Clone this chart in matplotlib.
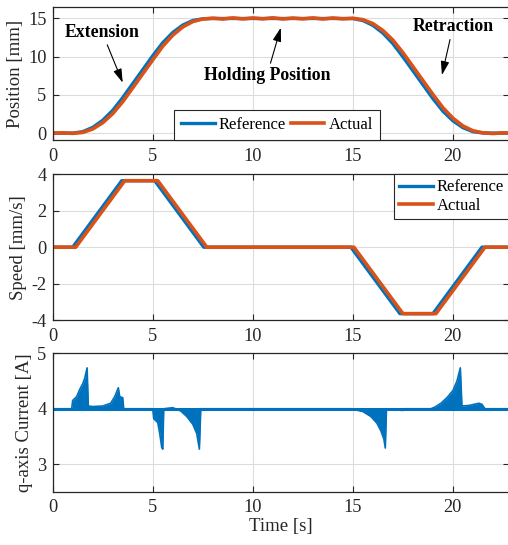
import matplotlib
matplotlib.use('Agg')
import matplotlib.pyplot as plt

plt.rcParams['font.family'] = ['Liberation Serif', 'DejaVu Serif']
plt.rcParams['axes.unicode_minus'] = False

#### colours (MATLAB default)
c_ref = '#0072BD'
c_act = '#D95319'

#### Position [mm]
pos_ref_t = [0, 1.0, 1.5, 2.0, 2.5, 3.0, 3.5, 4.0, 4.5, 5.0, 5.5, 6.0, 6.5, 7.0, 7.5, 8.0,
             14.5, 15.0, 15.5, 16.0, 16.5, 17.0, 17.5, 18.0, 18.5, 19.0, 19.5, 20.0, 20.5,
             21.0, 21.5, 22.0, 22.8]
pos_ref = [0, 0, 0.19, 0.75, 1.68, 2.98, 4.65, 6.48, 8.30, 10.13, 11.83, 13.17, 14.14, 14.74,
           14.96, 15.0, 15.0, 14.99, 14.73, 14.10, 13.09, 11.71, 9.98, 8.16, 6.33, 4.51, 2.87,
           1.61, 0.71, 0.19, 0.02, 0, 0]
pos_act_t = [0, 0.5, 1.0, 1.5, 2.0, 2.5, 3.0, 3.5, 4.0, 4.5, 5.0, 5.5, 6.0, 6.5, 7.0, 7.5,
             8.0, 8.5, 9.0, 9.5, 10.0, 10.5, 11.0, 11.5, 12.0, 12.5, 13.0, 13.5, 14.0, 14.5,
             15.0, 15.5, 16.0, 16.5, 17.0, 17.5, 18.0, 18.5, 19.0, 19.5, 20.0, 20.5, 21.0,
             21.5, 22.0, 22.5, 22.8]
pos_act = [0.0, 0.04, -0.03, 0.09, 0.54, 1.36, 2.55, 4.11, 5.93, 7.76, 9.58, 11.37, 12.81,
           13.89, 14.60, 14.93, 15.04, 14.93, 15.08, 14.94, 15.07, 14.95, 15.09, 14.93, 15.06,
           14.95, 15.08, 14.93, 15.07, 14.95, 15.03, 14.85, 14.33, 13.43, 12.17, 10.53, 8.71,
           6.88, 5.06, 3.32, 1.95, 0.94, 0.31, 0.04, -0.05, 0.04, 0.0]

#### Speed [mm/s]
spd_ref_t = [0, 1.0, 3.45, 5.1, 7.55, 14.9, 17.35, 19.0, 21.45, 22.8]
spd_ref = [0, 0, 3.65, 3.65, 0, 0, -3.65, -3.65, 0, 0]
spd_act_t = [0, 1.15, 3.6, 5.25, 7.7, 15.05, 17.5, 19.15, 21.6, 22.8]
spd_act = [0, 0, 3.65, 3.65, 0, 0, -3.65, -3.65, 0, 0]

#### q-axis current [A] (envelope of the ripple)
cur_base = 4.0
cur_t = [0.0, 0.95, 1.0, 1.2, 1.35, 1.5, 1.6, 1.72, 1.78, 2.0, 2.5, 2.9, 3.1, 3.28, 3.35,
         3.5, 3.55, 5.0, 5.05, 5.25, 5.35, 5.45, 5.5, 5.55, 6.0, 6.4, 6.7, 7.0, 7.2, 7.33,
         7.4, 14.9, 15.5, 15.9, 16.2, 16.4, 16.55, 16.62, 16.68, 17.2, 17.5, 17.6, 18.9,
         19.1, 19.4, 19.7, 20.0, 20.2, 20.37, 20.45, 20.8, 21.3, 21.45, 21.6, 22.8]
cur_v = [4.0, 4.0, 4.15, 4.22, 4.35, 4.45, 4.55, 4.74, 4.05, 4.04, 4.05, 4.1, 4.22, 4.38,
         4.22, 4.2, 4.0, 4.0, 3.82, 3.75, 3.55, 3.3, 3.27, 4.0, 4.02, 3.96, 3.86, 3.72, 3.55,
         3.27, 4.0, 4.0, 3.95, 3.86, 3.74, 3.6, 3.45, 3.29, 4.0, 3.98, 3.97, 4.0, 4.0, 4.03,
         4.1, 4.2, 4.33, 4.5, 4.74, 4.05, 4.06, 4.1, 4.08, 4.0, 4.0]

xmax = 22.8

fig = plt.figure(figsize=(5.08, 5.45), dpi=100)
ax1 = fig.add_axes([0.1037, 0.7431, 0.8982, 0.2440])
ax2 = fig.add_axes([0.1037, 0.4128, 0.8982, 0.2673])
ax3 = fig.add_axes([0.1037, 0.0978, 0.8982, 0.2536])

for ax in (ax1, ax2, ax3):
    ax.set_xlim(0, xmax)
    ax.set_xticks([0, 5, 10, 15, 20])
    ax.grid(True, color='#dcdcdc', lw=0.8)
    ax.set_axisbelow(True)
    ax.tick_params(direction='in', top=True, right=True, labelsize=13.2,
                   colors='#262626', length=4, width=0.8)
    ax.tick_params(axis='x', pad=5.5)
    ax.tick_params(axis='y', pad=4.5)
    for s in ax.spines.values():
        s.set_color('#262626')
        s.set_linewidth(0.9)

##### Position
ax1.plot(pos_ref_t, pos_ref, color=c_ref, lw=2.4, label='Reference')
ax1.plot(pos_act_t, pos_act, color=c_act, lw=2.6, label='Actual')
ax1.set_ylim(-0.9, 16.5)
ax1.set_yticks([0, 5, 10, 15])
ax1.set_ylabel('Position [mm]', fontsize=13.5, color='#262626', labelpad=3)
leg1 = ax1.legend(loc='lower center', bbox_to_anchor=(0.492, 0), ncol=2, fontsize=12,
                  fancybox=False, edgecolor='#262626', borderaxespad=0, handlelength=2.0,
                  handletextpad=0.25, columnspacing=0.3, borderpad=0.42)
leg1.get_frame().set_linewidth(0.8)
leg1.get_frame().set_alpha(1)

arw = dict(arrowstyle='-|>,head_length=0.65,head_width=0.2', color='k', lw=0.8,
           shrinkA=1, shrinkB=0)
ax1.annotate('Extension', xy=(3.5, 6.6), xytext=(2.47, 13.2), ha='center', va='center',
             fontsize=12.8, fontweight='bold', arrowprops=arw)
ax1.annotate('Holding Position', xy=(11.4, 13.8), xytext=(10.7, 7.5), ha='center',
             va='center', fontsize=12.8, fontweight='bold', arrowprops=arw)
ax1.annotate('Retraction', xy=(19.45, 7.6), xytext=(20.0, 13.9), ha='center', va='center',
             fontsize=12.8, fontweight='bold', arrowprops=arw)

##### Speed
ax2.plot(spd_ref_t, spd_ref, color=c_ref, lw=2.4, label='Reference')
ax2.plot(spd_act_t, spd_act, color=c_act, lw=2.6, label='Actual')
ax2.set_ylim(-4, 4)
ax2.set_yticks([-4, -2, 0, 2, 4])
ax2.set_ylabel('Speed [mm/s]', fontsize=13.5, color='#262626', labelpad=3)
leg2 = ax2.legend(loc='upper right', fontsize=12, fancybox=False, edgecolor='#262626',
                  borderaxespad=0, handlelength=2.0, handletextpad=0.25, borderpad=0.3,
                  labelspacing=0.15)
leg2.get_frame().set_linewidth(0.8)
leg2.get_frame().set_alpha(1)

##### Current
ax3.fill_between(cur_t, cur_base, cur_v, color=c_ref, lw=0)
ax3.plot(cur_t, cur_v, color=c_ref, lw=1.2)
ax3.axhline(cur_base, color=c_ref, lw=2.2)
ax3.set_ylim(2.5, 5)
ax3.set_yticks([3, 4, 5])
ax3.set_ylabel('q-axis Current [A]', fontsize=13.5, color='#262626', labelpad=3)
ax3.set_xlabel('Time [s]', fontsize=13.5, color='#262626', labelpad=1)

fig.savefig('out.png', dpi=100)
